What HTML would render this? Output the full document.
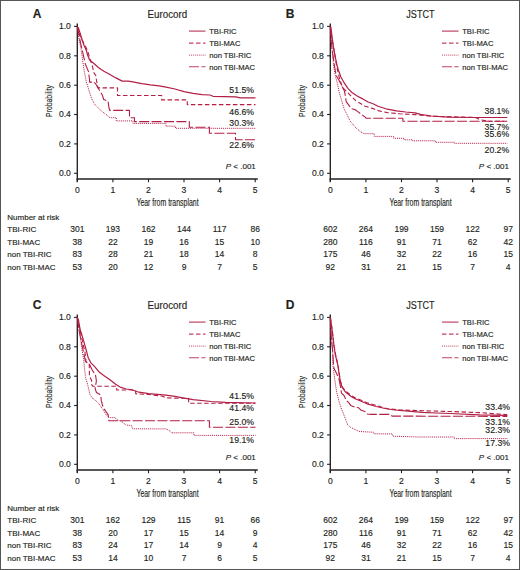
<!DOCTYPE html>
<html><head><meta charset="utf-8"><title>Figure</title>
<style>
html,body{margin:0;padding:0;background:#fff;}
body{width:520px;height:570px;overflow:hidden;}
svg{display:block;font-family:"Liberation Sans",sans-serif;}
text{stroke:#231f20;stroke-width:0.15px;}
</style></head><body>
<svg width="520" height="570" viewBox="0 0 520 570">
<rect x="0" y="0" width="520" height="570" fill="#fff"/>
<g transform="translate(0,0)">
<text x="32.8" y="17.5" font-size="12" font-weight="bold" fill="#231f20" stroke="#231f20" stroke-width="0.35">A</text>
<text x="147.60" y="17.8" font-size="10" textLength="39.6" lengthAdjust="spacingAndGlyphs" fill="#231f20">Eurocord</text>
<path d="M77.3,23.5 V181.8" stroke="#231f20" stroke-width="1.35" fill="none"/>
<path d="M74.1,173.3 H77.3" stroke="#231f20" stroke-width="1.1"/>
<text x="70.9" y="176.1" font-size="8.6" text-anchor="end" fill="#231f20">0.0</text>
<path d="M74.1,143.9 H77.3" stroke="#231f20" stroke-width="1.1"/>
<text x="70.9" y="146.7" font-size="8.6" text-anchor="end" fill="#231f20">0.2</text>
<path d="M74.1,114.5 H77.3" stroke="#231f20" stroke-width="1.1"/>
<text x="70.9" y="117.3" font-size="8.6" text-anchor="end" fill="#231f20">0.4</text>
<path d="M74.1,85.2 H77.3" stroke="#231f20" stroke-width="1.1"/>
<text x="70.9" y="88" font-size="8.6" text-anchor="end" fill="#231f20">0.6</text>
<path d="M74.1,55.8 H77.3" stroke="#231f20" stroke-width="1.1"/>
<text x="70.9" y="58.6" font-size="8.6" text-anchor="end" fill="#231f20">0.8</text>
<path d="M74.1,26.4 H77.3" stroke="#231f20" stroke-width="1.1"/>
<text x="70.9" y="29.2" font-size="8.6" text-anchor="end" fill="#231f20">1.0</text>
<path d="M76.7,178.9 H257.8" stroke="#231f20" stroke-width="1.45" fill="none"/>
<path d="M77.3,178.9 V182.2" stroke="#231f20" stroke-width="1.1"/>
<text x="77.3" y="192.6" font-size="8.6" text-anchor="middle" fill="#231f20">0</text>
<path d="M112.9,178.9 V182.2" stroke="#231f20" stroke-width="1.1"/>
<text x="112.9" y="192.6" font-size="8.6" text-anchor="middle" fill="#231f20">1</text>
<path d="M148.5,178.9 V182.2" stroke="#231f20" stroke-width="1.1"/>
<text x="148.5" y="192.6" font-size="8.6" text-anchor="middle" fill="#231f20">2</text>
<path d="M184,178.9 V182.2" stroke="#231f20" stroke-width="1.1"/>
<text x="184" y="192.6" font-size="8.6" text-anchor="middle" fill="#231f20">3</text>
<path d="M219.6,178.9 V182.2" stroke="#231f20" stroke-width="1.1"/>
<text x="219.6" y="192.6" font-size="8.6" text-anchor="middle" fill="#231f20">4</text>
<path d="M255.2,178.9 V182.2" stroke="#231f20" stroke-width="1.1"/>
<text x="255.2" y="192.6" font-size="8.6" text-anchor="middle" fill="#231f20">5</text>
<text x="136.4" y="206.3" font-size="10" textLength="62.2" lengthAdjust="spacingAndGlyphs" fill="#231f20">Year from transplant</text>
<text transform="translate(52.2,116.9) rotate(-90)" font-size="9.8" textLength="31.9" lengthAdjust="spacingAndGlyphs" fill="#231f20">Probability</text>
<path d="M189,31.1 H205.5" stroke="#c04565" fill="none" stroke-width="1.2"/>
<text x="209.2" y="33.8" font-size="7.6" fill="#231f20">TBI-RIC</text>
<path d="M189,43.1 H205.5" stroke="#c04565" fill="none" stroke-width="1.1" stroke-dasharray="4.5 2.5"/>
<text x="209.2" y="45.8" font-size="7.6" fill="#231f20">TBI-MAC</text>
<path d="M189,55.1 H205.5" stroke="#c04565" fill="none" stroke-width="1" stroke-dasharray="1 0.95"/>
<text x="209.2" y="57.8" font-size="7.6" fill="#231f20">non TBI-RIC</text>
<path d="M189,66.8 H205.5" stroke="#c04565" fill="none" stroke-width="1.1" stroke-dasharray="10 2.4"/>
<text x="209.2" y="69.5" font-size="7.6" fill="#231f20">non TBI-MAC</text>
<path d="M77.3,26.4 L78.4,28 L80.3,33.7 L82.2,40 L84.2,45.8 L86.4,50.5 L87.5,54.8 L89.6,60 L93.3,63 L94.8,64.2 L98.1,67.3 L101.2,69.5 L103.9,71.2 L108.6,73.7 L115.9,77.9 L122.2,81.1 L128,81.2 L131.4,81.6 L141.8,83.7 L150.4,84.9 L159.1,85.8 L166,87.2 L175,89 L184,91.6 L193.1,93.4 L202,94.7 L210,95 L213,96.3 L236,96.8 L240,97.9 L255.5,97.9" stroke="#b31e44" fill="none" stroke-linejoin="round" stroke-width="1.2"/>
<path d="M77.3,26.4 L80,36 L84.3,44.2 L87.5,50.5 L91.7,64.2 L92.7,67.4 L93.8,72.6 L95.9,75.8 L96.4,80 L98,87.9 H117.5 V95.5 H161.7 V99.9 H187.3 V104.6 H255.5" stroke="#b31e44" fill="none" stroke-linejoin="round" stroke-width="1.1" stroke-dasharray="4.5 2.5"/>
<path d="M77.3,26.4 L78.8,38 L81,48.4 L82.7,61 L84.3,71.6 L86.4,82.1 L89,90.5 L91.7,99 L95,104.7 L100.2,109.9 L104.6,113.4 L108.9,116.8 L110,117.7 H116.3 V120.9 H133 V123.4 H166 V126.2 H175.6 V128.3 H255.5" stroke="#b31e44" fill="none" stroke-linejoin="round" stroke-width="1" stroke-dasharray="1 0.95"/>
<path d="M77.3,26.4 L80.6,43.2 L85.4,64.2 L88.5,71.6 L89.6,80 L89.6,82.1 L93.8,82.1 L95.9,84.2 L99,89.5 L102.2,94.7 L103.7,99.5 L108,101.2 L108.9,107.3 L109.7,110.4 H129.5 V117.7 H134.5 V121.6 H189.3 V127.3 H209.4 V133.2 H235.5 V139.8 H255.5" stroke="#b31e44" fill="none" stroke-linejoin="round" stroke-width="1.1" stroke-dasharray="10 2.4"/>
<text x="254" y="93" font-size="8.7" text-anchor="end" fill="#231f20">51.5%</text>
<text x="254" y="115.3" font-size="8.7" text-anchor="end" fill="#231f20">46.6%</text>
<text x="254" y="126.1" font-size="8.7" text-anchor="end" fill="#231f20">30.3%</text>
<text x="254" y="148.4" font-size="8.7" text-anchor="end" fill="#231f20">22.6%</text>
<text x="255.8" y="168.9" font-size="8" text-anchor="end" fill="#231f20"><tspan font-style="italic">P</tspan> &lt; .001</text>
<text x="7.3" y="219.7" font-size="8" fill="#231f20">Number at risk</text>
<text x="7.3" y="232.2" font-size="8" fill="#231f20">TBI-RIC</text>
<text x="7.3" y="244.6" font-size="8" fill="#231f20">TBI-MAC</text>
<text x="7.3" y="257.1" font-size="8" fill="#231f20">non TBI-RIC</text>
<text x="7.3" y="269.6" font-size="8" fill="#231f20">non TBI-MAC</text>
<text x="77.3" y="232.2" font-size="8.5" text-anchor="middle" fill="#231f20">301</text>
<text x="112.9" y="232.2" font-size="8.5" text-anchor="middle" fill="#231f20">193</text>
<text x="148.5" y="232.2" font-size="8.5" text-anchor="middle" fill="#231f20">162</text>
<text x="184" y="232.2" font-size="8.5" text-anchor="middle" fill="#231f20">144</text>
<text x="219.6" y="232.2" font-size="8.5" text-anchor="middle" fill="#231f20">117</text>
<text x="255.2" y="232.2" font-size="8.5" text-anchor="middle" fill="#231f20">86</text>
<text x="77.3" y="244.6" font-size="8.5" text-anchor="middle" fill="#231f20">38</text>
<text x="112.9" y="244.6" font-size="8.5" text-anchor="middle" fill="#231f20">22</text>
<text x="148.5" y="244.6" font-size="8.5" text-anchor="middle" fill="#231f20">19</text>
<text x="184" y="244.6" font-size="8.5" text-anchor="middle" fill="#231f20">16</text>
<text x="219.6" y="244.6" font-size="8.5" text-anchor="middle" fill="#231f20">15</text>
<text x="255.2" y="244.6" font-size="8.5" text-anchor="middle" fill="#231f20">10</text>
<text x="77.3" y="257.1" font-size="8.5" text-anchor="middle" fill="#231f20">83</text>
<text x="112.9" y="257.1" font-size="8.5" text-anchor="middle" fill="#231f20">28</text>
<text x="148.5" y="257.1" font-size="8.5" text-anchor="middle" fill="#231f20">21</text>
<text x="184" y="257.1" font-size="8.5" text-anchor="middle" fill="#231f20">18</text>
<text x="219.6" y="257.1" font-size="8.5" text-anchor="middle" fill="#231f20">14</text>
<text x="255.2" y="257.1" font-size="8.5" text-anchor="middle" fill="#231f20">8</text>
<text x="77.3" y="269.6" font-size="8.5" text-anchor="middle" fill="#231f20">53</text>
<text x="112.9" y="269.6" font-size="8.5" text-anchor="middle" fill="#231f20">20</text>
<text x="148.5" y="269.6" font-size="8.5" text-anchor="middle" fill="#231f20">12</text>
<text x="184" y="269.6" font-size="8.5" text-anchor="middle" fill="#231f20">9</text>
<text x="219.6" y="269.6" font-size="8.5" text-anchor="middle" fill="#231f20">7</text>
<text x="255.2" y="269.6" font-size="8.5" text-anchor="middle" fill="#231f20">5</text>
</g>
<g transform="translate(253,0)">
<text x="32.8" y="17.5" font-size="12" font-weight="bold" fill="#231f20" stroke="#231f20" stroke-width="0.35">B</text>
<text x="153.30" y="17.8" font-size="10" textLength="28.2" lengthAdjust="spacingAndGlyphs" fill="#231f20">JSTCT</text>
<path d="M77.3,23.5 V181.8" stroke="#231f20" stroke-width="1.35" fill="none"/>
<path d="M74.1,173.3 H77.3" stroke="#231f20" stroke-width="1.1"/>
<text x="70.9" y="176.1" font-size="8.6" text-anchor="end" fill="#231f20">0.0</text>
<path d="M74.1,143.9 H77.3" stroke="#231f20" stroke-width="1.1"/>
<text x="70.9" y="146.7" font-size="8.6" text-anchor="end" fill="#231f20">0.2</text>
<path d="M74.1,114.5 H77.3" stroke="#231f20" stroke-width="1.1"/>
<text x="70.9" y="117.3" font-size="8.6" text-anchor="end" fill="#231f20">0.4</text>
<path d="M74.1,85.2 H77.3" stroke="#231f20" stroke-width="1.1"/>
<text x="70.9" y="88" font-size="8.6" text-anchor="end" fill="#231f20">0.6</text>
<path d="M74.1,55.8 H77.3" stroke="#231f20" stroke-width="1.1"/>
<text x="70.9" y="58.6" font-size="8.6" text-anchor="end" fill="#231f20">0.8</text>
<path d="M74.1,26.4 H77.3" stroke="#231f20" stroke-width="1.1"/>
<text x="70.9" y="29.2" font-size="8.6" text-anchor="end" fill="#231f20">1.0</text>
<path d="M76.7,178.9 H257.8" stroke="#231f20" stroke-width="1.45" fill="none"/>
<path d="M77.3,178.9 V182.2" stroke="#231f20" stroke-width="1.1"/>
<text x="77.3" y="192.6" font-size="8.6" text-anchor="middle" fill="#231f20">0</text>
<path d="M112.9,178.9 V182.2" stroke="#231f20" stroke-width="1.1"/>
<text x="112.9" y="192.6" font-size="8.6" text-anchor="middle" fill="#231f20">1</text>
<path d="M148.5,178.9 V182.2" stroke="#231f20" stroke-width="1.1"/>
<text x="148.5" y="192.6" font-size="8.6" text-anchor="middle" fill="#231f20">2</text>
<path d="M184,178.9 V182.2" stroke="#231f20" stroke-width="1.1"/>
<text x="184" y="192.6" font-size="8.6" text-anchor="middle" fill="#231f20">3</text>
<path d="M219.6,178.9 V182.2" stroke="#231f20" stroke-width="1.1"/>
<text x="219.6" y="192.6" font-size="8.6" text-anchor="middle" fill="#231f20">4</text>
<path d="M255.2,178.9 V182.2" stroke="#231f20" stroke-width="1.1"/>
<text x="255.2" y="192.6" font-size="8.6" text-anchor="middle" fill="#231f20">5</text>
<text x="136.4" y="206.3" font-size="10" textLength="62.2" lengthAdjust="spacingAndGlyphs" fill="#231f20">Year from transplant</text>
<text transform="translate(52.2,116.9) rotate(-90)" font-size="9.8" textLength="31.9" lengthAdjust="spacingAndGlyphs" fill="#231f20">Probability</text>
<path d="M189,31.1 H205.5" stroke="#c04565" fill="none" stroke-width="1.2"/>
<text x="209.2" y="33.8" font-size="7.6" fill="#231f20">TBI-RIC</text>
<path d="M189,43.1 H205.5" stroke="#c04565" fill="none" stroke-width="1.1" stroke-dasharray="4.5 2.5"/>
<text x="209.2" y="45.8" font-size="7.6" fill="#231f20">TBI-MAC</text>
<path d="M189,55.1 H205.5" stroke="#c04565" fill="none" stroke-width="1" stroke-dasharray="1 0.95"/>
<text x="209.2" y="57.8" font-size="7.6" fill="#231f20">non TBI-RIC</text>
<path d="M189,66.8 H205.5" stroke="#c04565" fill="none" stroke-width="1.1" stroke-dasharray="10 2.4"/>
<text x="209.2" y="69.5" font-size="7.6" fill="#231f20">non TBI-MAC</text>
<path d="M77.3,26.4 L77.8,26.8 L79.2,38 L80.6,47.9 L82.7,59.1 L84.2,66 L85.3,70 L87.9,77 L91.4,83.2 L94.9,88.4 L99.3,92.8 L104.6,96.3 L109.8,98.9 L115.1,102 L120,103.8 L125.1,106.2 L134.3,109.2 L143.5,110.8 L152.8,112 L162,112.9 L167.6,114.3 L178.2,116 L195.1,117.1 L220.5,117.5 L254.3,117.5" stroke="#b31e44" fill="none" stroke-linejoin="round" stroke-width="1.2"/>
<path d="M77.3,26.4 L78.5,36 L81.3,52.1 L83.4,64.7 L85.2,73 L86.6,78.8 L89.6,87.5 L94.9,92.8 L98.4,96.3 L102.8,100.7 L107.2,103.3 L111.6,106 L116.8,107.7 L120,108.6 L125.1,110.6 L134.3,112.6 L146.6,113.8 L162,114.6 L178.2,116.2 L209.9,117.1 L222.6,117.5 L226.8,119.6 L235.3,121.3 L254.3,121.3" stroke="#b31e44" fill="none" stroke-linejoin="round" stroke-width="1.1" stroke-dasharray="4.5 2.5"/>
<path d="M77.3,26.4 L78.5,45 L80.6,66.1 L82.6,77 L84.4,83.2 L86.1,91.9 L87.9,98.1 L89.6,104.2 L91.4,109.5 L94,114.7 L96.2,119.1 L97.6,121.7 L103.5,128.5 L107.9,132 L111.3,133.7 H121.2 V136.4 H140.8 V138.3 H151.2 V139.8 H159.8 V140.8 H182.4 V142.3 H201.4 V143.3 H254.3" stroke="#b31e44" fill="none" stroke-linejoin="round" stroke-width="1" stroke-dasharray="1 0.95"/>
<path d="M77.3,26.4 L78,40 L79.2,49.3 L81.5,66 L83.1,75.3 L86.1,80.5 L89.6,87.5 L91.4,91.1 L92.3,95.4 L93.2,101.6 L95.8,105.1 L98.4,108.6 L101.9,109.5 L105.4,112.1 L108.9,114.7 L112.5,117.4 L113,118.2 H149.9 V121.2 H254.3" stroke="#b31e44" fill="none" stroke-linejoin="round" stroke-width="1.1" stroke-dasharray="10 2.4"/>
<text x="256.2" y="114.2" font-size="8.7" text-anchor="end" fill="#231f20">38.1%</text>
<text x="256.2" y="129.7" font-size="8.7" text-anchor="end" fill="#231f20">35.7%</text>
<text x="256.2" y="137.1" font-size="8.7" text-anchor="end" fill="#231f20">35.6%</text>
<text x="256.2" y="153.4" font-size="8.7" text-anchor="end" fill="#231f20">20.2%</text>
<text x="255.9" y="168.9" font-size="8" text-anchor="end" fill="#231f20"><tspan font-style="italic">P</tspan> &lt; .001</text>
<text x="77.3" y="232.2" font-size="8.5" text-anchor="middle" fill="#231f20">602</text>
<text x="112.9" y="232.2" font-size="8.5" text-anchor="middle" fill="#231f20">264</text>
<text x="148.5" y="232.2" font-size="8.5" text-anchor="middle" fill="#231f20">199</text>
<text x="184" y="232.2" font-size="8.5" text-anchor="middle" fill="#231f20">159</text>
<text x="219.6" y="232.2" font-size="8.5" text-anchor="middle" fill="#231f20">122</text>
<text x="255.2" y="232.2" font-size="8.5" text-anchor="middle" fill="#231f20">97</text>
<text x="77.3" y="244.6" font-size="8.5" text-anchor="middle" fill="#231f20">280</text>
<text x="112.9" y="244.6" font-size="8.5" text-anchor="middle" fill="#231f20">116</text>
<text x="148.5" y="244.6" font-size="8.5" text-anchor="middle" fill="#231f20">91</text>
<text x="184" y="244.6" font-size="8.5" text-anchor="middle" fill="#231f20">71</text>
<text x="219.6" y="244.6" font-size="8.5" text-anchor="middle" fill="#231f20">62</text>
<text x="255.2" y="244.6" font-size="8.5" text-anchor="middle" fill="#231f20">42</text>
<text x="77.3" y="257.1" font-size="8.5" text-anchor="middle" fill="#231f20">175</text>
<text x="112.9" y="257.1" font-size="8.5" text-anchor="middle" fill="#231f20">46</text>
<text x="148.5" y="257.1" font-size="8.5" text-anchor="middle" fill="#231f20">32</text>
<text x="184" y="257.1" font-size="8.5" text-anchor="middle" fill="#231f20">22</text>
<text x="219.6" y="257.1" font-size="8.5" text-anchor="middle" fill="#231f20">16</text>
<text x="255.2" y="257.1" font-size="8.5" text-anchor="middle" fill="#231f20">15</text>
<text x="77.3" y="269.6" font-size="8.5" text-anchor="middle" fill="#231f20">92</text>
<text x="112.9" y="269.6" font-size="8.5" text-anchor="middle" fill="#231f20">31</text>
<text x="148.5" y="269.6" font-size="8.5" text-anchor="middle" fill="#231f20">21</text>
<text x="184" y="269.6" font-size="8.5" text-anchor="middle" fill="#231f20">15</text>
<text x="219.6" y="269.6" font-size="8.5" text-anchor="middle" fill="#231f20">7</text>
<text x="255.2" y="269.6" font-size="8.5" text-anchor="middle" fill="#231f20">4</text>
</g>
<g transform="translate(0,291)">
<text x="32.8" y="17.5" font-size="12" font-weight="bold" fill="#231f20" stroke="#231f20" stroke-width="0.35">C</text>
<text x="147.60" y="17.8" font-size="10" textLength="39.6" lengthAdjust="spacingAndGlyphs" fill="#231f20">Eurocord</text>
<path d="M77.3,23.5 V181.8" stroke="#231f20" stroke-width="1.35" fill="none"/>
<path d="M74.1,173.3 H77.3" stroke="#231f20" stroke-width="1.1"/>
<text x="70.9" y="176.1" font-size="8.6" text-anchor="end" fill="#231f20">0.0</text>
<path d="M74.1,143.9 H77.3" stroke="#231f20" stroke-width="1.1"/>
<text x="70.9" y="146.7" font-size="8.6" text-anchor="end" fill="#231f20">0.2</text>
<path d="M74.1,114.5 H77.3" stroke="#231f20" stroke-width="1.1"/>
<text x="70.9" y="117.3" font-size="8.6" text-anchor="end" fill="#231f20">0.4</text>
<path d="M74.1,85.2 H77.3" stroke="#231f20" stroke-width="1.1"/>
<text x="70.9" y="88" font-size="8.6" text-anchor="end" fill="#231f20">0.6</text>
<path d="M74.1,55.8 H77.3" stroke="#231f20" stroke-width="1.1"/>
<text x="70.9" y="58.6" font-size="8.6" text-anchor="end" fill="#231f20">0.8</text>
<path d="M74.1,26.4 H77.3" stroke="#231f20" stroke-width="1.1"/>
<text x="70.9" y="29.2" font-size="8.6" text-anchor="end" fill="#231f20">1.0</text>
<path d="M76.7,178.9 H257.8" stroke="#231f20" stroke-width="1.45" fill="none"/>
<path d="M77.3,178.9 V182.2" stroke="#231f20" stroke-width="1.1"/>
<text x="77.3" y="192.6" font-size="8.6" text-anchor="middle" fill="#231f20">0</text>
<path d="M112.9,178.9 V182.2" stroke="#231f20" stroke-width="1.1"/>
<text x="112.9" y="192.6" font-size="8.6" text-anchor="middle" fill="#231f20">1</text>
<path d="M148.5,178.9 V182.2" stroke="#231f20" stroke-width="1.1"/>
<text x="148.5" y="192.6" font-size="8.6" text-anchor="middle" fill="#231f20">2</text>
<path d="M184,178.9 V182.2" stroke="#231f20" stroke-width="1.1"/>
<text x="184" y="192.6" font-size="8.6" text-anchor="middle" fill="#231f20">3</text>
<path d="M219.6,178.9 V182.2" stroke="#231f20" stroke-width="1.1"/>
<text x="219.6" y="192.6" font-size="8.6" text-anchor="middle" fill="#231f20">4</text>
<path d="M255.2,178.9 V182.2" stroke="#231f20" stroke-width="1.1"/>
<text x="255.2" y="192.6" font-size="8.6" text-anchor="middle" fill="#231f20">5</text>
<text x="136.4" y="206.3" font-size="10" textLength="62.2" lengthAdjust="spacingAndGlyphs" fill="#231f20">Year from transplant</text>
<text transform="translate(52.2,116.9) rotate(-90)" font-size="9.8" textLength="31.9" lengthAdjust="spacingAndGlyphs" fill="#231f20">Probability</text>
<path d="M189,31.1 H205.5" stroke="#c04565" fill="none" stroke-width="1.2"/>
<text x="209.2" y="33.8" font-size="7.6" fill="#231f20">TBI-RIC</text>
<path d="M189,43.1 H205.5" stroke="#c04565" fill="none" stroke-width="1.1" stroke-dasharray="4.5 2.5"/>
<text x="209.2" y="45.8" font-size="7.6" fill="#231f20">TBI-MAC</text>
<path d="M189,55.1 H205.5" stroke="#c04565" fill="none" stroke-width="1" stroke-dasharray="1 0.95"/>
<text x="209.2" y="57.8" font-size="7.6" fill="#231f20">non TBI-RIC</text>
<path d="M189,66.8 H205.5" stroke="#c04565" fill="none" stroke-width="1.1" stroke-dasharray="10 2.4"/>
<text x="209.2" y="69.5" font-size="7.6" fill="#231f20">non TBI-MAC</text>
<path d="M77.3,26.4 L78.5,29 L80.2,39 L82.3,45.3 L84.4,52.7 L86.5,60.1 L88.1,66.4 L90.7,71.6 L94.9,75.8 L99.2,81.1 L103.4,84.3 L110.3,89 L115.6,93.2 L120.9,96.4 L126.2,98 L132.6,99 L138.9,101.2 L148.7,102.7 L166,104.2 L175,105.4 L184.1,107.2 L193.1,108.7 L211.2,110.5 L225.7,111.4 L255.5,112" stroke="#b31e44" fill="none" stroke-linejoin="round" stroke-width="1.2"/>
<path d="M77.3,26.4 L79,34 L82.3,49.5 L85,61.1 L86,70.6 L89.2,72.7 L89.4,78.6 L89.4,85.7 L91.6,89.2 L91.6,93.6 L93,95.3 H116.7 V99 H126.2 L130.4,98.6 L135.7,100 L135.7,102.8 L148.7,103.5 L162.5,105.2 L166,106.8 L176.8,107.2 H188.6 V112.2 H255.5" stroke="#b31e44" fill="none" stroke-linejoin="round" stroke-width="1.1" stroke-dasharray="4.5 2.5"/>
<path d="M77.3,26.4 L79,37 L80.7,49.5 L82.3,60.1 L83.7,69 L84.6,77.8 L85.5,86.5 L87.2,91.8 L88.5,97.1 L89.8,103.2 L92,106.7 L95.5,109.4 L98.2,112 L100.8,115.5 L103.4,119 L106.1,123.9 L109.3,126.6 L114.6,126.6 L117.2,128.7 L123,131.3 L125.7,134 L131.5,134.5 L132.6,137.8 L166,137.9 L169.6,139.7 L171.4,141.8 L194,141.8 L194,144.4 L255.5,144.4" stroke="#b31e44" fill="none" stroke-linejoin="round" stroke-width="1" stroke-dasharray="1 0.95"/>
<path d="M77.3,26.4 L79,39 L82,54 L85.5,70.6 L89.7,73.7 L92,78.6 L95.5,83.9 L96.4,90 L95.1,97.1 L96.4,101.5 L100.8,104.1 L101.2,109.4 L102.6,114.6 L104.3,118.1 L106.1,120.7 L108.2,123.9 L108.8,129.8 H209.4 V136.2 H255.5" stroke="#b31e44" fill="none" stroke-linejoin="round" stroke-width="1.1" stroke-dasharray="10 2.4"/>
<text x="254" y="107.9" font-size="8.7" text-anchor="end" fill="#231f20">41.5%</text>
<text x="254" y="120" font-size="8.7" text-anchor="end" fill="#231f20">41.4%</text>
<text x="254" y="133.8" font-size="8.7" text-anchor="end" fill="#231f20">25.0%</text>
<text x="254" y="152.4" font-size="8.7" text-anchor="end" fill="#231f20">19.1%</text>
<text x="255.8" y="168.9" font-size="8" text-anchor="end" fill="#231f20"><tspan font-style="italic">P</tspan> &lt; .001</text>
<text x="7.3" y="219.7" font-size="8" fill="#231f20">Number at risk</text>
<text x="7.3" y="232.2" font-size="8" fill="#231f20">TBI-RIC</text>
<text x="7.3" y="244.6" font-size="8" fill="#231f20">TBI-MAC</text>
<text x="7.3" y="257.1" font-size="8" fill="#231f20">non TBI-RIC</text>
<text x="7.3" y="269.6" font-size="8" fill="#231f20">non TBI-MAC</text>
<text x="77.3" y="232.2" font-size="8.5" text-anchor="middle" fill="#231f20">301</text>
<text x="112.9" y="232.2" font-size="8.5" text-anchor="middle" fill="#231f20">162</text>
<text x="148.5" y="232.2" font-size="8.5" text-anchor="middle" fill="#231f20">129</text>
<text x="184" y="232.2" font-size="8.5" text-anchor="middle" fill="#231f20">115</text>
<text x="219.6" y="232.2" font-size="8.5" text-anchor="middle" fill="#231f20">91</text>
<text x="255.2" y="232.2" font-size="8.5" text-anchor="middle" fill="#231f20">66</text>
<text x="77.3" y="244.6" font-size="8.5" text-anchor="middle" fill="#231f20">38</text>
<text x="112.9" y="244.6" font-size="8.5" text-anchor="middle" fill="#231f20">20</text>
<text x="148.5" y="244.6" font-size="8.5" text-anchor="middle" fill="#231f20">17</text>
<text x="184" y="244.6" font-size="8.5" text-anchor="middle" fill="#231f20">15</text>
<text x="219.6" y="244.6" font-size="8.5" text-anchor="middle" fill="#231f20">14</text>
<text x="255.2" y="244.6" font-size="8.5" text-anchor="middle" fill="#231f20">9</text>
<text x="77.3" y="257.1" font-size="8.5" text-anchor="middle" fill="#231f20">83</text>
<text x="112.9" y="257.1" font-size="8.5" text-anchor="middle" fill="#231f20">24</text>
<text x="148.5" y="257.1" font-size="8.5" text-anchor="middle" fill="#231f20">17</text>
<text x="184" y="257.1" font-size="8.5" text-anchor="middle" fill="#231f20">14</text>
<text x="219.6" y="257.1" font-size="8.5" text-anchor="middle" fill="#231f20">9</text>
<text x="255.2" y="257.1" font-size="8.5" text-anchor="middle" fill="#231f20">4</text>
<text x="77.3" y="269.6" font-size="8.5" text-anchor="middle" fill="#231f20">53</text>
<text x="112.9" y="269.6" font-size="8.5" text-anchor="middle" fill="#231f20">14</text>
<text x="148.5" y="269.6" font-size="8.5" text-anchor="middle" fill="#231f20">10</text>
<text x="184" y="269.6" font-size="8.5" text-anchor="middle" fill="#231f20">7</text>
<text x="219.6" y="269.6" font-size="8.5" text-anchor="middle" fill="#231f20">6</text>
<text x="255.2" y="269.6" font-size="8.5" text-anchor="middle" fill="#231f20">5</text>
</g>
<g transform="translate(253,291)">
<text x="32.8" y="17.5" font-size="12" font-weight="bold" fill="#231f20" stroke="#231f20" stroke-width="0.35">D</text>
<text x="153.30" y="17.8" font-size="10" textLength="28.2" lengthAdjust="spacingAndGlyphs" fill="#231f20">JSTCT</text>
<path d="M77.3,23.5 V181.8" stroke="#231f20" stroke-width="1.35" fill="none"/>
<path d="M74.1,173.3 H77.3" stroke="#231f20" stroke-width="1.1"/>
<text x="70.9" y="176.1" font-size="8.6" text-anchor="end" fill="#231f20">0.0</text>
<path d="M74.1,143.9 H77.3" stroke="#231f20" stroke-width="1.1"/>
<text x="70.9" y="146.7" font-size="8.6" text-anchor="end" fill="#231f20">0.2</text>
<path d="M74.1,114.5 H77.3" stroke="#231f20" stroke-width="1.1"/>
<text x="70.9" y="117.3" font-size="8.6" text-anchor="end" fill="#231f20">0.4</text>
<path d="M74.1,85.2 H77.3" stroke="#231f20" stroke-width="1.1"/>
<text x="70.9" y="88" font-size="8.6" text-anchor="end" fill="#231f20">0.6</text>
<path d="M74.1,55.8 H77.3" stroke="#231f20" stroke-width="1.1"/>
<text x="70.9" y="58.6" font-size="8.6" text-anchor="end" fill="#231f20">0.8</text>
<path d="M74.1,26.4 H77.3" stroke="#231f20" stroke-width="1.1"/>
<text x="70.9" y="29.2" font-size="8.6" text-anchor="end" fill="#231f20">1.0</text>
<path d="M76.7,178.9 H257.8" stroke="#231f20" stroke-width="1.45" fill="none"/>
<path d="M77.3,178.9 V182.2" stroke="#231f20" stroke-width="1.1"/>
<text x="77.3" y="192.6" font-size="8.6" text-anchor="middle" fill="#231f20">0</text>
<path d="M112.9,178.9 V182.2" stroke="#231f20" stroke-width="1.1"/>
<text x="112.9" y="192.6" font-size="8.6" text-anchor="middle" fill="#231f20">1</text>
<path d="M148.5,178.9 V182.2" stroke="#231f20" stroke-width="1.1"/>
<text x="148.5" y="192.6" font-size="8.6" text-anchor="middle" fill="#231f20">2</text>
<path d="M184,178.9 V182.2" stroke="#231f20" stroke-width="1.1"/>
<text x="184" y="192.6" font-size="8.6" text-anchor="middle" fill="#231f20">3</text>
<path d="M219.6,178.9 V182.2" stroke="#231f20" stroke-width="1.1"/>
<text x="219.6" y="192.6" font-size="8.6" text-anchor="middle" fill="#231f20">4</text>
<path d="M255.2,178.9 V182.2" stroke="#231f20" stroke-width="1.1"/>
<text x="255.2" y="192.6" font-size="8.6" text-anchor="middle" fill="#231f20">5</text>
<text x="136.4" y="206.3" font-size="10" textLength="62.2" lengthAdjust="spacingAndGlyphs" fill="#231f20">Year from transplant</text>
<text transform="translate(52.2,116.9) rotate(-90)" font-size="9.8" textLength="31.9" lengthAdjust="spacingAndGlyphs" fill="#231f20">Probability</text>
<path d="M189,31.1 H205.5" stroke="#c04565" fill="none" stroke-width="1.2"/>
<text x="209.2" y="33.8" font-size="7.6" fill="#231f20">TBI-RIC</text>
<path d="M189,43.1 H205.5" stroke="#c04565" fill="none" stroke-width="1.1" stroke-dasharray="4.5 2.5"/>
<text x="209.2" y="45.8" font-size="7.6" fill="#231f20">TBI-MAC</text>
<path d="M189,55.1 H205.5" stroke="#c04565" fill="none" stroke-width="1" stroke-dasharray="1 0.95"/>
<text x="209.2" y="57.8" font-size="7.6" fill="#231f20">non TBI-RIC</text>
<path d="M189,66.8 H205.5" stroke="#c04565" fill="none" stroke-width="1.1" stroke-dasharray="10 2.4"/>
<text x="209.2" y="69.5" font-size="7.6" fill="#231f20">non TBI-MAC</text>
<path d="M77.3,26.4 L77.6,28.2 L79.2,39.8 L80.8,53.5 L82.4,64 L84.8,73.8 L86.3,84 L87.4,91 L89.2,96.5 L92,100.5 L97.8,105.2 L102,107.8 L107,109.8 L114,112.8 L123.2,115.5 L132,117.5 L141.6,119 L155,120.2 L169.3,121.3 L183,122 L197,122.5 L226.8,123.9 L254.3,124.4" stroke="#b31e44" fill="none" stroke-linejoin="round" stroke-width="1.2"/>
<path d="M77.3,26.4 L77.6,28 L79.2,39 L80.8,52.5 L82.4,63 L84.8,73 L86.3,83 L87.4,90 L89.2,95.5 L92,99.5 L97.8,104.2 L102,106.8 L107,108.8 L114,111.8 L123.2,114.5 L134.7,117.8 L147.7,119 L165,119.6 L197,120.5 L227,121.6 L254.3,123.7" stroke="#b31e44" fill="none" stroke-linejoin="round" stroke-width="1.1" stroke-dasharray="4.5 2.5"/>
<path d="M77.3,26.4 L78.2,45 L79.7,60.8 L79.9,73.8 L81.8,88.6 L83.6,100.9 L86.1,110.7 L88.5,118 L91,124.2 L93.4,130.3 L94.7,134 L97.5,136.2 L104.4,139.7 L107,140.5 L120.8,141.3 L121.2,142.8 L139.3,142.9 L140,145.2 L165,146 L201.4,146 L201.4,147.6 L254.3,147.6" stroke="#b31e44" fill="none" stroke-linejoin="round" stroke-width="1" stroke-dasharray="1 0.95"/>
<path d="M77.3,26.4 L78.2,45 L79.7,60.8 L80.5,73.8 L81.1,77.5 L83.6,82.4 L86.1,88.6 L87.3,94.7 L88.5,102.1 L91,104.5 L93.4,109.5 L95.9,111.9 L97.7,114.4 L102,116.2 L105.7,116.8 L108.2,119.3 L111.9,120.5 L114.3,123 L118,123.4 L137.3,123.4 L139,125.1 L254.3,125.4" stroke="#b31e44" fill="none" stroke-linejoin="round" stroke-width="1.1" stroke-dasharray="10 2.4"/>
<text x="257.0" y="119.2" font-size="8.7" text-anchor="end" fill="#231f20">33.4%</text>
<text x="257.0" y="134.1" font-size="8.7" text-anchor="end" fill="#231f20">33.1%</text>
<text x="257.0" y="142.1" font-size="8.7" text-anchor="end" fill="#231f20">32.3%</text>
<text x="257.0" y="154.7" font-size="8.7" text-anchor="end" fill="#231f20">17.3%</text>
<text x="255.9" y="168.9" font-size="8" text-anchor="end" fill="#231f20"><tspan font-style="italic">P</tspan> &lt; .001</text>
<text x="77.3" y="232.2" font-size="8.5" text-anchor="middle" fill="#231f20">602</text>
<text x="112.9" y="232.2" font-size="8.5" text-anchor="middle" fill="#231f20">264</text>
<text x="148.5" y="232.2" font-size="8.5" text-anchor="middle" fill="#231f20">199</text>
<text x="184" y="232.2" font-size="8.5" text-anchor="middle" fill="#231f20">159</text>
<text x="219.6" y="232.2" font-size="8.5" text-anchor="middle" fill="#231f20">122</text>
<text x="255.2" y="232.2" font-size="8.5" text-anchor="middle" fill="#231f20">97</text>
<text x="77.3" y="244.6" font-size="8.5" text-anchor="middle" fill="#231f20">280</text>
<text x="112.9" y="244.6" font-size="8.5" text-anchor="middle" fill="#231f20">116</text>
<text x="148.5" y="244.6" font-size="8.5" text-anchor="middle" fill="#231f20">91</text>
<text x="184" y="244.6" font-size="8.5" text-anchor="middle" fill="#231f20">71</text>
<text x="219.6" y="244.6" font-size="8.5" text-anchor="middle" fill="#231f20">62</text>
<text x="255.2" y="244.6" font-size="8.5" text-anchor="middle" fill="#231f20">42</text>
<text x="77.3" y="257.1" font-size="8.5" text-anchor="middle" fill="#231f20">175</text>
<text x="112.9" y="257.1" font-size="8.5" text-anchor="middle" fill="#231f20">46</text>
<text x="148.5" y="257.1" font-size="8.5" text-anchor="middle" fill="#231f20">32</text>
<text x="184" y="257.1" font-size="8.5" text-anchor="middle" fill="#231f20">22</text>
<text x="219.6" y="257.1" font-size="8.5" text-anchor="middle" fill="#231f20">16</text>
<text x="255.2" y="257.1" font-size="8.5" text-anchor="middle" fill="#231f20">15</text>
<text x="77.3" y="269.6" font-size="8.5" text-anchor="middle" fill="#231f20">92</text>
<text x="112.9" y="269.6" font-size="8.5" text-anchor="middle" fill="#231f20">31</text>
<text x="148.5" y="269.6" font-size="8.5" text-anchor="middle" fill="#231f20">21</text>
<text x="184" y="269.6" font-size="8.5" text-anchor="middle" fill="#231f20">15</text>
<text x="219.6" y="269.6" font-size="8.5" text-anchor="middle" fill="#231f20">7</text>
<text x="255.2" y="269.6" font-size="8.5" text-anchor="middle" fill="#231f20">4</text>
</g>
<rect x="0.5" y="0.5" width="519" height="569" fill="none" stroke="#555" stroke-width="1"/>
</svg>
</body></html>
